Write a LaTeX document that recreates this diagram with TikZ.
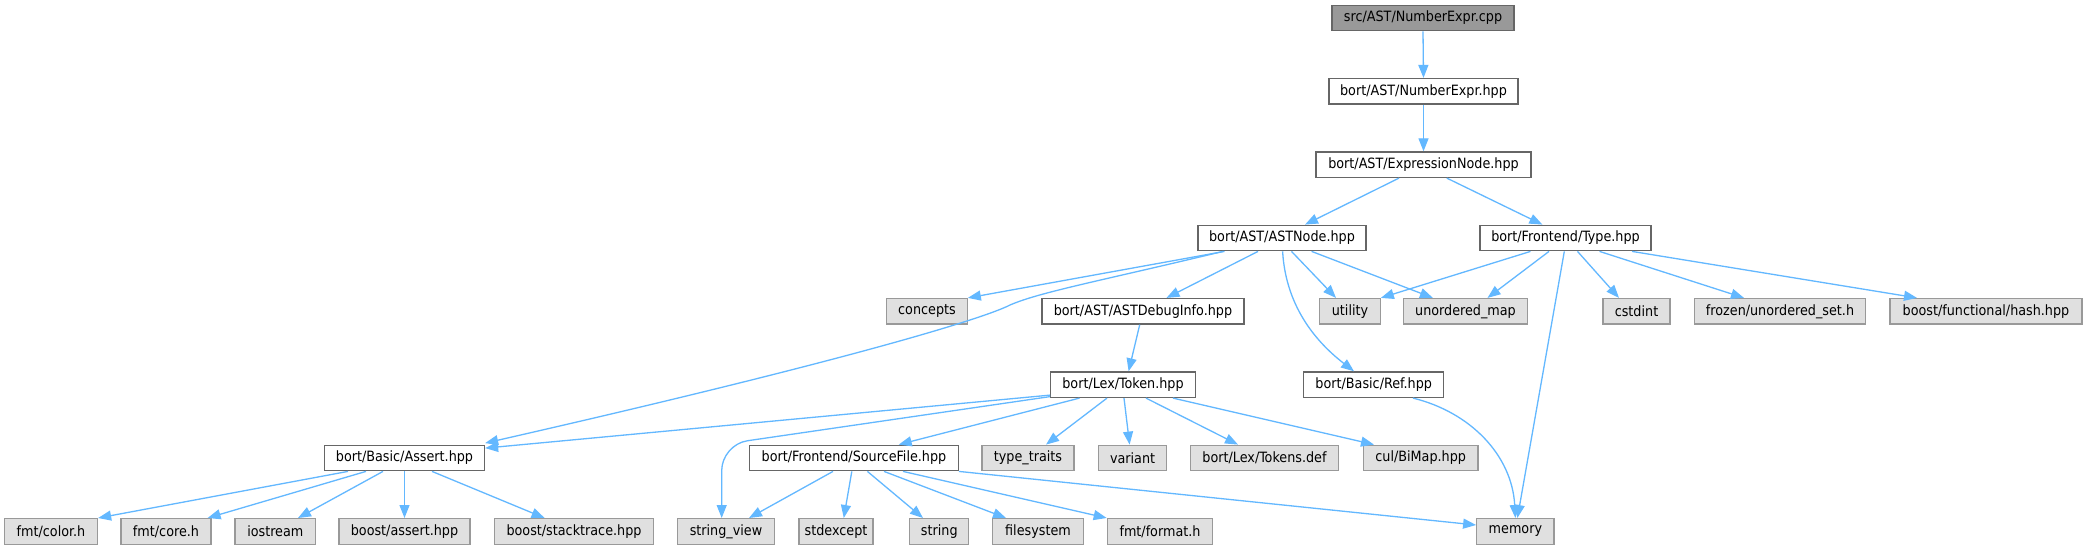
\documentclass[tikz,border=0pt]{standalone}
\usepackage{fontspec}
\setmainfont{DejaVu Sans Condensed}
\usetikzlibrary{arrows.meta}
\definecolor{edgeblue}{HTML}{63B8FF}
\definecolor{bordark}{HTML}{666666}
\definecolor{borlight}{HTML}{999999}
\definecolor{extfill}{HTML}{E0E0E0}
\definecolor{mainfill}{HTML}{999999}
\tikzset{
  basebox/.style={rectangle, inner sep=0pt, minimum height=25.5pt, line width=1.3pt, font=\fontsize{14.2pt}{16pt}\selectfont, text=black},
  mainbox/.style={basebox, draw=bordark, fill=mainfill},
  hdrbox/.style={basebox, draw=bordark, fill=white},
  extbox/.style={basebox, draw=borlight, fill=extfill},
  dep/.style={draw=edgeblue, line width=1.3pt, -{Triangle[length=13pt,width=10pt]}, edgeblue}
}
\begin{document}
\begin{tikzpicture}[x=1pt,y=-1pt]
\useasboundingbox[fill=white] (0,0) rectangle (2087,549);
% row 0-2
\node[mainbox, minimum width=182pt] (src) at (1423,18) {src/AST/NumberExpr.cpp};
\node[hdrbox, minimum width=189pt] (numexpr) at (1423.5,91.3) {bort/AST/NumberExpr.hpp};
\node[hdrbox, minimum width=215pt] (expr) at (1423.5,164.7) {bort/AST/ExpressionNode.hpp};
% row 3
\node[hdrbox, minimum width=168pt] (astnode) at (1282,238) {bort/AST/ASTNode.hpp};
\node[hdrbox, minimum width=171pt] (type) at (1565.5,238) {bort/Frontend/Type.hpp};
% row 4
\node[extbox, minimum width=80.4pt] (concepts) at (927,311.3) {concepts};
\node[hdrbox, minimum width=202pt] (astdebug) at (1143,311.3) {bort/AST/ASTDebugInfo.hpp};
\node[extbox, minimum width=60.4pt] (utility) at (1350,311.3) {utility};
\node[extbox, minimum width=124pt] (umap) at (1465.5,311.3) {unordered\_map};
\node[extbox, minimum width=67pt] (cstdint) at (1636.5,311.3) {cstdint};
\node[extbox, minimum width=171.5pt] (frozen) at (1780,311.3) {frozen/unordered\_set.h};
\node[extbox, minimum width=192pt] (hash) at (1986,311.3) {boost/functional/hash.hpp};
% row 5
\node[hdrbox, minimum width=144.5pt] (token) at (1123,384.7) {bort/Lex/Token.hpp};
\node[hdrbox, minimum width=140pt] (ref) at (1373.7,384.7) {bort/Basic/Ref.hpp};
% row 6
\node[hdrbox, minimum width=160pt] (assert) at (404.5,458) {bort/Basic/Assert.hpp};
\node[hdrbox, minimum width=208.4pt] (srcfile) at (854,458) {bort/Frontend/SourceFile.hpp};
\node[extbox, minimum width=92pt] (typetraits) at (1028,458) {type\_traits};
\node[extbox, minimum width=68pt] (variant) at (1132.6,458) {variant};
\node[extbox, minimum width=148pt] (tokdef) at (1264.5,458) {bort/Lex/Tokens.def};
\node[extbox, minimum width=114.6pt] (bimap) at (1420.7,458) {cul/BiMap.hpp};
% row 7
\node[extbox, minimum width=93pt] (color) at (51,531.4) {fmt/color.h};
\node[extbox, minimum width=90pt] (core) at (166,531.4) {fmt/core.h};
\node[extbox, minimum width=80.6pt] (iostream) at (275.3,531.4) {iostream};
\node[extbox, minimum width=131pt] (bassert) at (404.5,531.4) {boost/assert.hpp};
\node[extbox, minimum width=158.4pt] (stacktrace) at (574,531.4) {boost/stacktrace.hpp};
\node[extbox, minimum width=97.5pt] (sv) at (726,531.4) {string\_view};
\node[extbox, minimum width=74pt] (stdexcept) at (836,531.4) {stdexcept};
\node[extbox, minimum width=59pt] (string) at (939.3,531.4) {string};
\node[extbox, minimum width=90.6pt] (filesystem) at (1038,531.4) {filesystem};
\node[extbox, minimum width=105.4pt] (format) at (1160,531.4) {fmt/format.h};
\node[extbox, minimum width=77.3pt] (memory) at (1515.4,531.4) {memory};

\coordinate (astbend) at (1010,305);

% edges
\draw[dep] (src.south) -- (numexpr.north);
\draw[dep] (numexpr.south) -- (expr.north);
\draw[dep] ([xshift=-24.5pt]expr.south) -- ([xshift=23pt]astnode.north);
\draw[dep] ([xshift=23.3pt]expr.south) -- ([xshift=-23.1pt]type.north);

\draw[dep] ([xshift=-57.5pt]astnode.south) -- (concepts.north east);
\draw[dep] ([xshift=-59pt]astnode.south) .. controls (1100,281) and (1040,292) .. (astbend) .. controls (985,318) and (850,360) .. ([yshift=1.5pt]assert.north east);
\draw[dep] ([xshift=-24pt]astnode.south) -- ([xshift=23.5pt]astdebug.north);
\draw[dep] ([xshift=9.5pt]astnode.south) -- ([xshift=-14pt]utility.north);
\draw[dep] ([xshift=29.6pt]astnode.south) -- ([xshift=-32.6pt]umap.north);
\draw[dep] ([xshift=0.6pt]astnode.south) .. controls (1286,310) and (1320,345) .. ([xshift=-19.7pt]ref.north);

\draw[dep] ([xshift=-35pt]type.south) -- (utility.north east);
\draw[dep] ([xshift=-16.5pt]type.south) -- ([xshift=22pt]umap.north);
\draw[dep] ([xshift=-1.2pt]type.south) -- ([xshift=2pt]memory.north);
\draw[dep] ([xshift=12pt]type.south) -- ([xshift=-17.5pt]cstdint.north);
\draw[dep] ([xshift=34pt]type.south) -- ([xshift=-36pt]frozen.north);
\draw[dep] ([xshift=66.5pt]type.south) -- ([xshift=-69pt]hash.north);

\draw[dep] ([xshift=-3.3pt]astdebug.south) -- ([xshift=5.6pt]token.north);

\draw[dep] ([yshift=3pt]token.south west) -- ([yshift=-3.5pt]assert.north east);
\draw[dep, rounded corners=26pt] ([yshift=1.5pt]token.south west) -- (721.7,444.5) -- ([xshift=-4.3pt]sv.north);
\draw[dep] ([xshift=-43.5pt]token.south) -- ([xshift=44.7pt]srcfile.north);
\draw[dep] ([xshift=-16pt]token.south) -- ([xshift=18pt]typetraits.north);
\draw[dep] ([xshift=1pt]token.south) -- ([xshift=-3pt]variant.north);
\draw[dep] ([xshift=23pt]token.south) -- ([xshift=-26.5pt]tokdef.north);
\draw[dep] ([xshift=50pt]token.south) -- ([xshift=-46.7pt]bimap.north);

\draw[dep] ([xshift=-21pt]srcfile.south) -- ([xshift=23pt]sv.north);
\draw[dep] ([xshift=-2.2pt]srcfile.south) -- ([xshift=7.75pt]stdexcept.north);
\draw[dep] ([xshift=13.4pt]srcfile.south) -- ([xshift=-16.3pt]string.north);
\draw[dep] ([xshift=30pt]srcfile.south) -- ([xshift=-32pt]filesystem.north);
\draw[dep] ([xshift=49pt]srcfile.south) -- (format.north west);
\draw[dep] (srcfile.south east) -- ([yshift=6.4pt]memory.west);

\draw[dep] ([xshift=-56.5pt]assert.south) -- (color.north east);
\draw[dep] ([xshift=-38.5pt]assert.south) -- ([xshift=41.6pt]core.north);
\draw[dep] ([xshift=-21.5pt]assert.south) -- ([xshift=22.7pt]iostream.north);
\draw[dep] (assert.south) -- (bassert.north);
\draw[dep] ([xshift=27.5pt]assert.south) -- ([xshift=-29.4pt]stacktrace.north);

\draw[dep] ([xshift=39.3pt]ref.south) .. controls (1470,412) and (1512,455) .. (memory.north);
\end{tikzpicture}
\end{document}
